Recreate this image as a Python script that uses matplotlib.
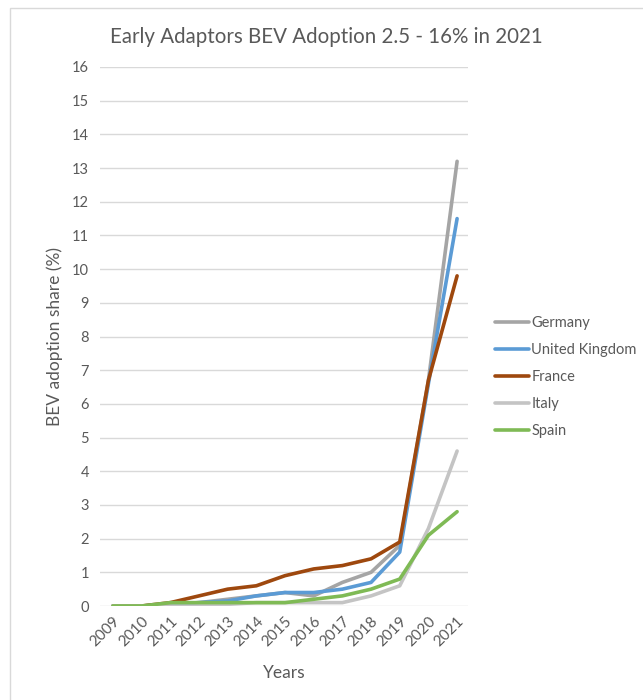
import matplotlib
matplotlib.use('Agg')
import matplotlib.pyplot as plt
import matplotlib.patches as mpatches

# years on the x axis
years = ['2009', '2010', '2011', '2012', '2013', '2014', '2015',
         '2016', '2017', '2018', '2019', '2020', '2021']

# BEV share of new car sales (%) per country
germany = [0, 0, 0.05, 0.1, 0.2, 0.3, 0.4, 0.3, 0.7, 1.0, 1.8, 6.7, 13.2]
uk = [0, 0, 0.05, 0.1, 0.15, 0.3, 0.4, 0.4, 0.5, 0.7, 1.6, 6.6, 11.5]
france = [0, 0, 0.1, 0.3, 0.5, 0.6, 0.9, 1.1, 1.2, 1.4, 1.9, 6.7, 9.8]
italy = [0, 0, 0, 0, 0.05, 0.1, 0.1, 0.1, 0.1, 0.3, 0.6, 2.3, 4.6]
spain = [0, 0, 0.1, 0.1, 0.1, 0.1, 0.1, 0.2, 0.3, 0.5, 0.8, 2.1, 2.8]

series = [('Germany', germany, '#A5A5A5'),
          ('United Kingdom', uk, '#5B9BD5'),
          ('France', france, '#9E480E'),
          ('Italy', italy, '#C4C4C4'),
          ('Spain', spain, '#7FBA55')]

plt.rcParams['font.family'] = ['Lato', 'DejaVu Sans']
txtcol = '#595959'

fig = plt.figure(figsize=(6.43, 7.0), dpi=100)
# light frame round the chart
fig.patches.append(mpatches.Rectangle((10 / 643, -0.1), 1.2, 1.1 - 8 / 700,
                                      transform=fig.transFigure, fill=False,
                                      edgecolor='#D9D9D9', linewidth=1))
ax = fig.add_axes([100 / 643, 94 / 700, 368 / 643, 539 / 700])

x = list(range(len(years)))
for name, vals, col in series:
    ax.plot(x, vals, color=col, linewidth=2.6, label=name,
            solid_joinstyle='round', solid_capstyle='round')

ax.set_xlim(-0.45, 12.38)
ax.set_ylim(0, 16)
ax.set_yticks(range(0, 17))
ax.set_xticks(x)
ax.set_xticklabels(years, rotation=45, ha='right', rotation_mode='anchor')
ax.grid(axis='y', color='#D9D9D9', linewidth=1)
ax.set_axisbelow(True)
for s in ax.spines.values():
    s.set_visible(False)
ax.tick_params(length=0, colors=txtcol, labelsize=10.5, pad=8)
ax.tick_params(axis='x', labelsize=11, pad=6)

ax.set_xlabel('Years', fontsize=12.5, color=txtcol, labelpad=11)
ax.set_ylabel('BEV adoption share (%)', fontsize=12.5, color=txtcol, labelpad=6)
fig.text(0.508, 0.947, 'Early Adaptors BEV Adoption 2.5 - 16% in 2021',
         ha='center', va='center', fontsize=14.8, color=txtcol)

leg = ax.legend(loc='center left', bbox_to_anchor=(495 / 643, 323 / 700),
                bbox_transform=fig.transFigure, frameon=False, fontsize=10.5,
                handlelength=2.3, handletextpad=0.2, labelspacing=0.88,
                borderaxespad=0, borderpad=0)
for t in leg.get_texts():
    t.set_color(txtcol)

fig.savefig('out.png', dpi=100, facecolor='white')
